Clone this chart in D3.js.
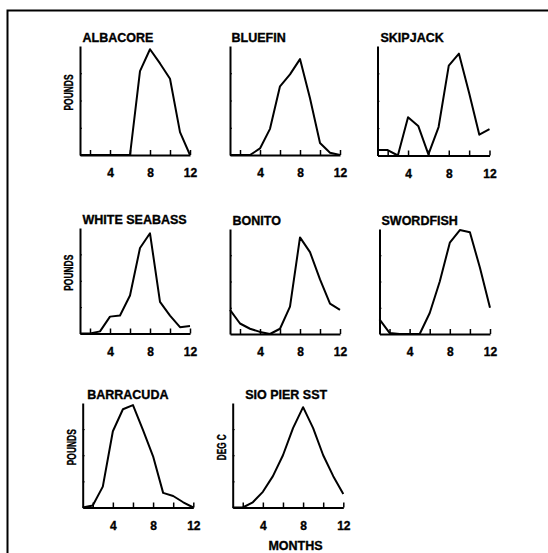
<!DOCTYPE html>
<html>
<head>
<meta charset="utf-8">
<script src="https://cdn.jsdelivr.net/npm/d3@7"></script>
<style>
  html, body { margin: 0; padding: 0; background: #fff; }
  svg { display: block; }
  text { font-family: "Liberation Sans", Arial, Helvetica, sans-serif; font-weight: bold; fill: #000; stroke: #000; stroke-width: 0.35px; }
</style>
</head>
<body>
<svg id="chart" width="548" height="553"></svg>
<script>
// ---- data (monthly values, relative scale 0-100) ----
const months = [1, 2, 3, 4, 5, 6, 7, 8, 9, 10, 11, 12];
const albacore     = [0, 0, 0, 0, 0, 0, 77, 97, 84, 70, 21, 0];
const bluefin      = [0, 0, 0, 6, 24, 63, 74, 88, 52, 11, 2, 0];
const skipjack     = [5, 5, 0, 35, 27, 1, 26, 82, 93, 57, 19, 24];
const whiteSeabass = [0, 0, 2, 16, 17, 36, 81, 95, 30, 17, 6, 7];
const bonito       = [23, 10, 5, 2, 0, 5, 26, 92, 78, 52, 29, 23];
const swordfish    = [14, 1, 0, 0, 0, 20, 50, 87, 99, 97, 63, 25];
const barracuda    = [0, 2, 20, 73, 94, 98, 74, 49, 14, 11, 5, 0];
const sioPierSst   = [0, 0, 5, 15, 30, 50, 76, 96, 76, 50, 30, 13];

const titles  = ["ALBACORE", "BLUEFIN", "SKIPJACK", "WHITE SEABASS", "BONITO", "SWORDFISH", "BARRACUDA", "SIO PIER SST"];
const yTitles = ["POUNDS", "", "", "POUNDS", "", "", "POUNDS", "DEG C"];
const seriesList = [albacore, bluefin, skipjack, whiteSeabass, bonito, swordfish, barracuda, sioPierSst];
const xTickValues = [2, 4, 6, 8, 10, 12];
const xTickLabels = [4, 8, 12];
const xAxisTitle = "MONTHS";

// ---- layout (pixel positions of each small panel) ----
const layout = [
  { x0: 80,    x1: 190,   top: 46,  base: 155,   titleDx: 2.5 },
  { x0: 230,   x1: 340,   top: 46,  base: 155,   titleDx: 1.5 },
  { x0: 377.5, x1: 489.5, top: 46,  base: 155.5, titleDx: 3 },
  { x0: 80,    x1: 190,   top: 228, base: 333.5, titleDx: 2.5 },
  { x0: 230,   x1: 340,   top: 229, base: 334,   titleDx: 2.5 },
  { x0: 379.5, x1: 490,   top: 229, base: 334,   titleDx: 2 },
  { x0: 82.7,  x1: 193.3, top: 403, base: 507.5, titleDx: 4.5 },
  { x0: 232.7, x1: 343.3, top: 403, base: 507.5, titleDx: 12.5 }
];

const svg = d3.select("#chart");

// outer frame (top and left edges)
svg.append("path")
  .attr("d", "M7.5,553 L7.5,10.5 L548,10.5")
  .attr("fill", "none").attr("stroke", "#000").attr("stroke-width", 2);

seriesList.forEach((values, i) => {
  const L = layout[i];
  const x = d3.scaleLinear().domain([1, 12]).range([L.x0, L.x1]);
  const y = d3.scaleLinear().domain([0, 100]).range([L.base, L.top]);
  const g = svg.append("g");

  // x axis
  const xa = g.append("g")
    .attr("transform", `translate(0,${L.base})`)
    .call(d3.axisBottom(x)
      .tickValues(xTickValues)
      .tickSizeInner(-5)
      .tickSizeOuter(0)
      .tickFormat(d => xTickLabels.includes(d) ? d : ""));
  xa.select(".domain").attr("stroke-width", 2);
  xa.selectAll(".tick line").attr("stroke-width", 1.5);
  xa.selectAll(".tick text")
    .attr("y", 22).attr("dy", 0)
    .style("font-size", "12px").style("font-weight", "bold")
    .style("font-family", "'Liberation Sans', Arial, sans-serif")
    .attr("fill", "#000");

  // y axis
  const ya = g.append("g")
    .attr("transform", `translate(${L.x0},0)`)
    .call(d3.axisLeft(y)
      .tickValues([25, 50, 75])
      .tickSizeInner(-2)
      .tickSizeOuter(0)
      .tickFormat(""));
  ya.select(".domain").attr("stroke-width", 2);
  ya.selectAll(".tick line").attr("stroke-width", 1);

  // data line
  const line = d3.line().x((d, k) => x(months[k])).y(d => y(d));
  g.append("path")
    .datum(values)
    .attr("d", line)
    .attr("fill", "none")
    .attr("stroke", "#000")
    .attr("stroke-width", 2)
    .attr("stroke-linejoin", "round");

  // panel title
  g.append("text")
    .attr("x", L.x0 + L.titleDx)
    .attr("y", L.top - 4)
    .style("font-size", "12.5px")
    .text(titles[i]);

  // y title
  if (yTitles[i]) {
    const cy = (L.top + L.base) / 2 - 8;
    const len = yTitles[i] === "DEG C" ? 26 : 36;
    g.append("text")
      .attr("transform", `translate(${L.x0 - 7},${cy}) rotate(-90)`)
      .attr("text-anchor", "middle")
      .attr("textLength", len)
      .attr("lengthAdjust", "spacingAndGlyphs")
      .style("font-size", "13.5px")
      .text(yTitles[i]);
  }
});

// x axis title under bottom row
svg.append("text")
  .attr("x", 295.5)
  .attr("y", 550)
  .attr("text-anchor", "middle")
  .style("font-size", "12.5px")
  .text(xAxisTitle);
</script>
</body>
</html>
